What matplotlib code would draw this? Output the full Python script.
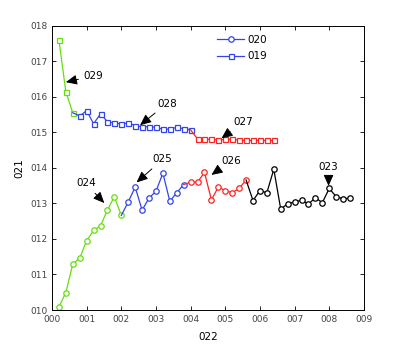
import matplotlib
matplotlib.use("Agg")
import matplotlib.pyplot as plt
import numpy as np

# circle series (label 020)
circ_x = [0.002 * i for i in range(1, 44)]
circ_y = [0.1009, 0.1049, 0.1130, 0.1146, 0.1195, 0.1224, 0.1237, 0.1281, 0.1319, 0.1266,
          0.1304, 0.1346, 0.1281, 0.1315, 0.1334, 0.1385, 0.1306, 0.1330, 0.1353,
          0.1360, 0.1360, 0.1387, 0.1310, 0.1346, 0.1336, 0.1330, 0.1342, 0.1366,
          0.1308, 0.1336, 0.1330, 0.1396, 0.1284, 0.1299, 0.1304, 0.1309, 0.1298,
          0.1316, 0.1302, 0.1342, 0.1319, 0.1313, 0.1315]
circ_groups = [(0, 10, '#66dd11'), (10, 19, '#3344ee'), (19, 28, '#ff2222'), (28, 43, 'k')]

# square series (label 019)
sq_x = [0.002 * i for i in range(1, 33)]
sq_y = [0.1760, 0.1614, 0.1555, 0.1546, 0.1561, 0.1524, 0.1552, 0.1530, 0.1526, 0.1524,
        0.1526, 0.1519, 0.1515, 0.1516, 0.1514, 0.1509, 0.1509, 0.1514, 0.1510, 0.1507,
        0.1481, 0.1481, 0.1480, 0.1478, 0.1480, 0.1481, 0.1478, 0.1477, 0.1477, 0.1477,
        0.1477, 0.1477]
sq_groups = [(0, 3, '#66dd11'), (3, 20, '#3344ee'), (20, 32, '#ff2222')]

# annotations: text, arrow tip (x, y), text pos (x, y)
notes = [("029", (0.0040, 0.1641), (0.0092, 0.1659)),
         ("028", (0.0254, 0.1520), (0.0303, 0.1581)),
         ("027", (0.0489, 0.1483), (0.0522, 0.1528)),
         ("025", (0.0244, 0.1359), (0.0291, 0.1424)),
         ("026", (0.0460, 0.1380), (0.0489, 0.1420)),
         ("024", (0.0151, 0.1301), (0.0069, 0.1356)),
         ("023", (0.0798, 0.1349), (0.0798, 0.1401))]

xticks = [0.01 * i for i in range(10)]
xticklabels = ["000", "001", "002", "003", "004", "005", "006", "007", "008", "009"]
yticks = [0.10 + 0.01 * i for i in range(9)]
yticklabels = ["010", "011", "012", "013", "014", "015", "016", "017", "018"]

fig = plt.figure(figsize=(4.03, 3.49), dpi=100)
ax = fig.add_axes([0.129, 0.1117, 0.774, 0.8147])


def draw(xs, ys, groups, marker, ms):
    for k, (a, b, c) in enumerate(groups):
        s = a - 1 if a > 0 else a
        ax.plot(xs[s:b], ys[s:b], '-', color=c, lw=0.9)
        ax.plot(xs[a:b], ys[a:b], linestyle='none', marker=marker, ms=ms,
                mfc='white', mec=c, mew=0.9)


draw(circ_x, circ_y, circ_groups, 'o', 3.9)
draw(sq_x, sq_y, sq_groups, 's', 3.6)

ax.plot([], [], '-o', color='#3344ee', lw=0.9, ms=3.9, mfc='white', mew=0.9, label='020')
ax.plot([], [], '-s', color='#3344ee', lw=0.9, ms=3.6, mfc='white', mew=0.9, label='019')
ax.legend(loc='upper left', bbox_to_anchor=(0.5, 1.0), frameon=False, fontsize=7.5,
          handlelength=2.6, handletextpad=0.3, labelspacing=0.6)

for t, tip, pos in notes:
    ha = 'center' if t == "023" else 'left'
    ax.annotate(t, xy=tip, xytext=pos, fontsize=7.5, ha=ha, va='center',
                arrowprops=dict(arrowstyle='-|>,head_length=0.9,head_width=0.4',
                                color='k', lw=0.7, shrinkA=2, shrinkB=0))

ax.set_xlim(0, 0.09)
ax.set_ylim(0.10, 0.18)
ax.set_xticks(xticks)
ax.set_xticklabels(xticklabels)
ax.set_yticks(yticks)
ax.set_yticklabels(yticklabels)
ax.tick_params(direction='in', top=True, right=True, labelsize=6.5, length=3,
               width=0.6, labelcolor='#444444')
for sp in ax.spines.values():
    sp.set_linewidth(0.7)
ax.set_xlabel("022", fontsize=7.5, labelpad=6)
ax.set_ylabel("021", fontsize=7.5, labelpad=4)

fig.savefig("out.png", dpi=100)
